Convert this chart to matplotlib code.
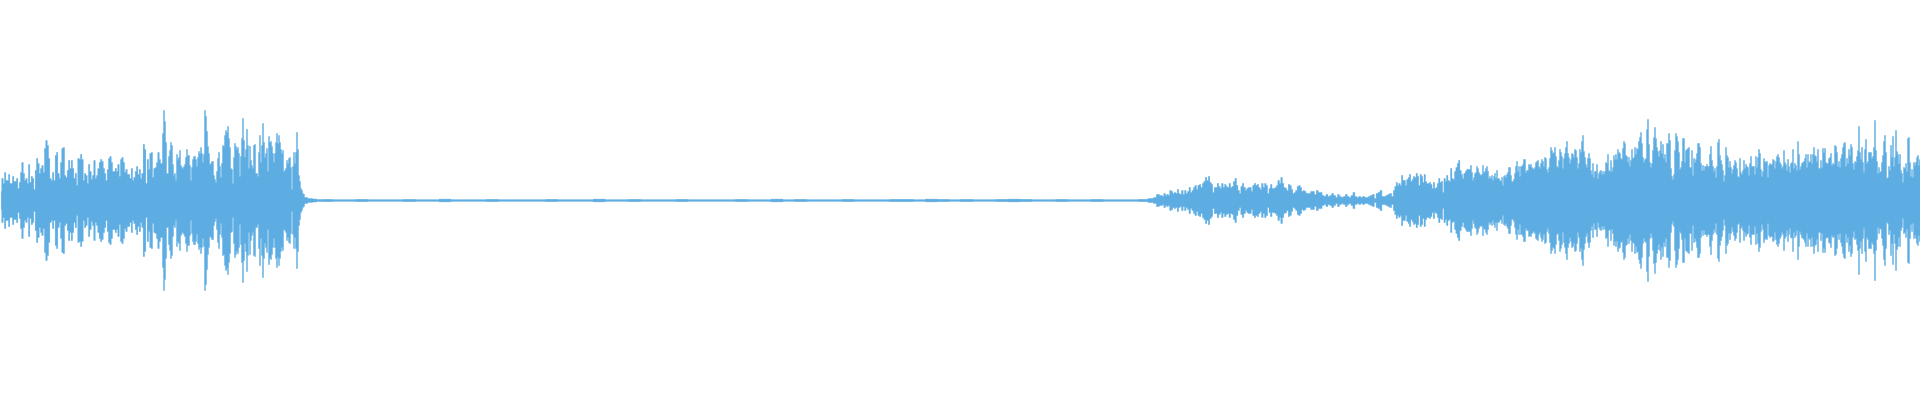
import numpy as np
import matplotlib
matplotlib.use('Agg')
import matplotlib.pyplot as plt

# peak level per slice (0 = silence)
intro_a = [9, 22, 17, 28, 20, 20, 26, 17, 17, 24, 19, 19, 22, 12, 18, 28, 38, 27, 20, 22, 17, 36, 18, 24, 22, 11,
           30, 42, 37, 27, 32, 35, 28, 52, 60, 55, 42, 22, 20, 28, 20, 45, 48, 27, 22, 38, 52, 53, 25, 23, 30, 40,
           32, 40, 32, 22, 27, 15, 42, 41, 46, 41, 20, 27, 25, 17, 36, 29, 21, 25, 40, 22, 25, 32, 38, 41, 39, 32,
           27, 20, 31, 42, 44, 38, 29, 29, 32, 29, 36, 24, 41, 43, 38, 28, 31, 26, 26, 22, 32, 20, 23, 29, 34, 26,
           31, 22, 27, 56, 51, 17, 41, 31, 47, 48, 23, 32, 33, 38, 48, 41]
intro_b = [37, 37, 67, 90, 79, 58, 27, 27, 44, 50, 58, 55, 36, 25, 27, 20, 46, 41, 43, 50, 35, 33, 32, 34, 36, 43,
           51, 45, 45, 35, 20, 33, 41, 44, 44, 41, 34, 43, 49, 47, 53, 47, 38, 46, 90, 84, 69, 54, 47, 36, 37, 39,
           39, 25, 21, 18, 29, 42, 48, 34, 23, 37, 55, 54, 65, 70, 68, 74, 62, 53, 32, 31, 17, 43, 57, 54, 51, 53,
           47, 24, 44, 62, 82, 60, 43, 51, 71, 55, 32, 54, 40, 35, 32, 55, 56, 27, 27, 24, 48, 65, 38, 55, 77, 58,
           43, 47, 52, 29, 64, 58, 59, 54, 47, 38, 47, 58, 67, 57, 65, 58, 51, 47, 50, 29, 30, 32, 40, 37, 42, 43,
           33, 11, 34, 48, 37, 48, 68, 51, 25, 19, 12, 10, 7, 6, 3, 3, 3, 2, 2, 2, 2, 2, 1.5, 1.5, 1.5, 1.5, 1, 1, 1, 1]
silence = [1.2, 0.8, 0.8, 1.2, 0.8, 0.8, 0.8, 1.2, 0.8, 0.8, 1.4, 0.8, 0.8, 0.8, 1.2, 0.8, 0.8, 0.8, 0.8, 1.2,
           0.8, 0.8, 0.8, 1.4, 0.8, 0.8, 1.2, 0.8, 0.8, 0.8, 1.2, 0.8, 0.8, 0.8, 0.8, 1.2, 0.8, 0.8, 1.4, 0.8, 1.2,
           0.8, 0.8, 0.8, 1.2, 0.8, 0.8, 0.8, 1.2, 1.2, 0.8, 1.4, 1.2, 0.8, 1.2, 0.8, 0.8, 1.2, 1.4, 1.2, 0.8, 0.8,
           1.2, 0.8, 0.8, 1.2, 0.8, 0.8, 0.8, 1.2]
swell = [2, 2, 3, 3, 6, 6, 5, 5, 4, 7, 5, 6, 5, 10, 9, 7, 8, 7, 11, 7, 6, 10, 6, 10, 7, 9, 13, 8, 10, 13, 15, 11,
         15, 16, 13, 17, 19, 23, 20, 24, 18, 16, 8, 13, 13, 17, 14, 12, 17, 13, 16, 14, 13, 17, 13, 14, 19, 22, 15,
         10, 7, 14, 17, 13, 10, 12, 13, 13, 9, 15, 17, 15, 16, 13, 11, 17, 13, 17, 15, 7, 12, 16, 12, 12, 13, 15,
         20, 17, 23, 17, 13, 12, 10, 16, 15, 11, 7, 8, 10, 14, 15, 13, 9, 10, 9, 7, 7, 7]
lull = [9, 9, 6, 10, 8, 8, 5, 4, 6, 4, 5, 7, 5, 3, 6, 4, 3, 4, 6, 4, 3, 5, 8, 4, 3, 4, 3, 4, 3, 3, 4, 5, 6, 2, 7,
        8, 10, 4, 4, 5, 6, 7, 4]
entry = [10, 14, 18, 15, 17, 15, 25, 20, 20, 15, 21, 23, 26, 19, 21, 24, 23, 27, 24, 15, 26, 24, 18, 26, 19, 17,
         17, 18, 16, 12, 18, 12, 13, 17, 22, 18, 19, 8, 22, 19, 25, 20, 19, 32, 22, 21, 29, 33, 37, 40, 30, 26,
         22, 27, 29, 31, 31, 31]
build = [35, 28, 20, 23, 27, 28, 34, 32, 28, 26, 25, 26, 35, 28, 29, 32, 34, 29, 22, 24, 22, 25, 20, 24, 27, 22,
         30, 22, 22, 20, 19, 23, 15, 24, 25, 23, 26, 28, 33, 33, 25, 19, 19, 21, 27, 34, 39, 29, 34, 24, 34, 34,
         36, 41, 41, 28, 30, 30, 36, 35, 36, 33, 32, 31, 33, 38, 39, 40, 34, 32, 37, 41, 39, 34, 43, 42, 31, 28,
         33, 42, 53, 50, 47, 48, 53, 44, 34, 33, 40, 51, 48, 44, 32, 42, 47, 53, 59, 47, 43, 37, 41, 47, 46, 43,
         51, 50, 43, 32, 37, 51, 48, 59, 65, 49, 43, 36, 33, 42, 47, 42, 30, 26, 37, 23, 29, 29, 36, 22, 27, 29,
         30, 26, 29, 26, 29, 38, 37, 46, 30, 29, 40, 29, 33, 45, 41, 46, 41, 51, 48, 47, 42, 41, 52, 59, 57, 45,
         44, 38, 43, 34]
full_a = [40, 51, 42, 43, 53, 46, 52, 51, 59, 63, 68, 57, 43, 38, 41, 42, 71, 81, 56, 38, 33, 37, 50, 63, 73, 62,
          53, 49, 44, 50, 59, 47, 56, 42, 46, 38, 57, 57, 67, 60, 32, 24, 21, 26, 50, 67, 64, 59, 48, 31, 33, 39,
          62, 62, 38, 50, 51, 52, 53, 33, 33, 50, 25, 42, 38, 41, 47, 57, 57, 53, 37, 30, 35, 30, 34, 34, 36, 34,
          34, 46, 54, 40, 34, 29, 32, 23, 34, 58, 61, 45, 40, 36, 30, 19, 25, 53, 45, 43, 33, 39, 33, 27, 31, 35,
          40, 38, 32, 24, 23, 42, 28, 26, 30, 40, 32, 36, 34, 33, 25, 37, 44, 34, 34, 34, 26, 44, 33, 43, 51, 47,
          31, 24, 29, 42, 39, 38, 39, 23, 35, 37, 36, 36, 41, 40, 32, 39, 44, 46, 43, 38, 36, 32, 34, 50, 38, 36,
          30, 41, 34, 28]
full_b = [37, 38, 51, 32, 37, 35, 30, 59, 46, 31, 34, 37, 38, 39, 42, 46, 33, 46, 38, 39, 46, 37, 46, 53, 45, 44,
          39, 51, 32, 32, 40, 33, 52, 48, 52, 38, 37, 37, 42, 43, 47, 35, 37, 36, 55, 54, 48, 34, 39, 33, 42, 46,
          53, 57, 58, 34, 42, 37, 51, 45, 56, 53, 37, 31, 39, 38, 44, 50, 74, 48, 41, 53, 38, 28, 51, 61, 37, 39,
          48, 48, 48, 42, 44, 53, 80, 50, 39, 27, 33, 28, 29, 38, 45, 59, 65, 48, 22, 23, 34, 30, 55, 43, 64, 34,
          43, 70, 49, 46, 37, 46, 30, 27, 18, 33, 32, 37, 29, 62, 63, 38, 24, 31, 23, 38, 35, 38, 43, 45, 35, 41]

# time span of each slice (timeline units)
segments = [(0, 160, intro_a), (160, 320, intro_b), (320, 1150, silence), (1150, 1310, swell),
            (1310, 1393, lull), (1393, 1470, entry), (1470, 1630, build), (1630, 1790, full_a),
            (1790, 1920, full_b)]

t = []
level = []
for start, end, vals in segments:
    step = (end - start) / len(vals)
    t.extend(start + step * (np.arange(len(vals)) + 0.5))
    level.extend(vals)
t = np.array(t)
level = np.array(level, dtype=float)

fig = plt.figure(figsize=(19.2, 4), dpi=100)
ax = fig.add_axes([0, 0, 1, 1])
ax.fill_between(t, -level, level, step='mid', color='#5dade2', linewidth=0.3, edgecolor='#5dade2')
ax.set_xlim(0, 1920)
ax.set_ylim(-200, 200)
ax.axis('off')
fig.savefig('out.png', dpi=100, facecolor='white')
